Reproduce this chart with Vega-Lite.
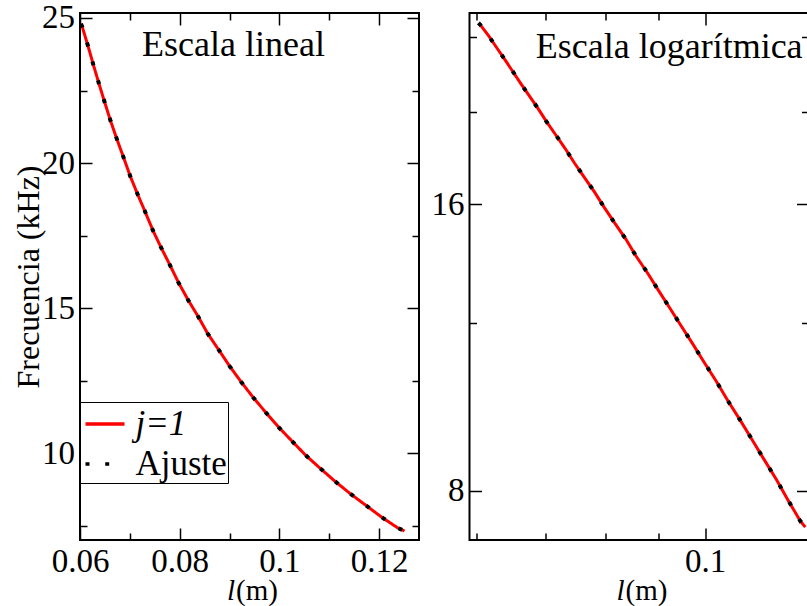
{
  "$schema": "https://vega.github.io/schema/vega-lite/v6.json",
  "padding": {"left": 11, "top": 0, "right": 0, "bottom": 0},
  "background": "white",
  "spacing": 50.5,
  "bounds": "flush",
  "datasets": {
    "curve": [
      {"l": 0.0602, "j1": 24.80, "ajuste": 24.80},
      {"l": 0.06046, "j1": 24.69, "ajuste": 24.69},
      {"l": 0.0616, "j1": 24.04, "ajuste": 24.04},
      {"l": 0.06267, "j1": 23.39, "ajuste": 23.39},
      {"l": 0.0638, "j1": 22.74, "ajuste": 22.74},
      {"l": 0.06494, "j1": 22.10, "ajuste": 22.10},
      {"l": 0.06614, "j1": 21.45, "ajuste": 21.45},
      {"l": 0.06741, "j1": 20.82, "ajuste": 20.82},
      {"l": 0.06875, "j1": 20.19, "ajuste": 20.19},
      {"l": 0.07008, "j1": 19.55, "ajuste": 19.55},
      {"l": 0.07155, "j1": 18.93, "ajuste": 18.93},
      {"l": 0.0731, "j1": 18.31, "ajuste": 18.31},
      {"l": 0.07463, "j1": 17.68, "ajuste": 17.68},
      {"l": 0.0763, "j1": 17.08, "ajuste": 17.08},
      {"l": 0.07804, "j1": 16.49, "ajuste": 16.49},
      {"l": 0.07977, "j1": 15.88, "ajuste": 15.88},
      {"l": 0.08171, "j1": 15.28, "ajuste": 15.28},
      {"l": 0.08372, "j1": 14.71, "ajuste": 14.71},
      {"l": 0.08565, "j1": 14.12, "ajuste": 14.12},
      {"l": 0.08786, "j1": 13.56, "ajuste": 13.56},
      {"l": 0.09, "j1": 13.01, "ajuste": 13.01},
      {"l": 0.09234, "j1": 12.46, "ajuste": 12.46},
      {"l": 0.09474, "j1": 11.93, "ajuste": 11.93},
      {"l": 0.09728, "j1": 11.41, "ajuste": 11.41},
      {"l": 0.09982, "j1": 10.91, "ajuste": 10.91},
      {"l": 0.1025, "j1": 10.43, "ajuste": 10.43},
      {"l": 0.1052, "j1": 9.95, "ajuste": 9.95},
      {"l": 0.1081, "j1": 9.50, "ajuste": 9.50},
      {"l": 0.1111, "j1": 9.05, "ajuste": 9.05},
      {"l": 0.1141, "j1": 8.63, "ajuste": 8.63},
      {"l": 0.1173, "j1": 8.22, "ajuste": 8.22},
      {"l": 0.1204, "j1": 7.82, "ajuste": 7.82},
      {"l": 0.1237, "j1": 7.44, "ajuste": 7.44},
      {"l": 0.1251, "j1": 7.33, "ajuste": 7.33}
    ],
    "notes": [
      {"panel": "lineal", "label": "Escala lineal", "l": 0.0908, "f": 23.68},
      {"panel": "log", "label": "Escala logarítmica", "l": 0.09225, "f": 22.8}
    ]
  },
  "resolve": {
    "scale": {"x": "independent", "y": "independent", "color": "independent", "strokeDash": "independent"},
    "axis": {"x": "independent", "y": "independent"},
    "legend": {"color": "independent", "strokeDash": "independent"}
  },
  "config": {
    "font": "Liberation Serif",
    "view": {"stroke": "black", "strokeWidth": 2},
    "axis": {
      "grid": false, "domain": false,
      "labelFont": "Liberation Serif", "labelFontSize": 33, "labelColor": "black",
      "labelOverlap": false, "labelFlush": false, "labelBound": false,
      "titleFont": "Liberation Serif", "titleFontWeight": "normal", "titleColor": "black",
      "tickColor": "black", "tickWidth": 1.5, "labelPadding": 17.5
    },
    "legend": {
      "labelFont": "Liberation Serif", "labelColor": "black"
    }
  },
  "hconcat": [
    {
      "width": 339,
      "height": 527,
      "layer": [
        {
          "data": {"name": "curve"},
          "mark": {"type": "line", "strokeWidth": 3},
          "encoding": {
            "x": {
              "field": "l", "type": "quantitative",
              "scale": {"domain": [0.06, 0.128], "nice": false, "zero": false},
              "axis": {
                "orient": "bottom", "format": "~g",
                "values": [0.06, 0.07, 0.08, 0.09, 0.1, 0.11, 0.12],
                "labelExpr": "indexof([0.06,0.08,0.1,0.12], datum.value) >= 0 ? datum.label : ''",
                "tickSize": {"condition": {"test": "indexof([0.06,0.08,0.1,0.12], datum.value) >= 0", "value": -12}, "value": -7},
                "title": "l", "titleFontStyle": "italic", "titleFontSize": 29,
                "titleX": 154.5, "titleY": 59.3, "titleAlign": "right", "titleBaseline": "alphabetic", "titleAngle": 0
              }
            },
            "y": {
              "field": "j1", "type": "quantitative",
              "scale": {"domain": [7.02, 25.17], "nice": false, "zero": false},
              "axis": {
                "orient": "left", "format": "~g",
                "values": [7.5, 10, 12.5, 15, 17.5, 20, 22.5, 25],
                "labelExpr": "indexof([10,15,20,25], datum.value) >= 0 ? datum.label : ''",
                "tickSize": {"condition": {"test": "indexof([10,15,20,25], datum.value) >= 0", "value": -12}, "value": -7},
                "title": "Frecuencia (kHz)", "titleFontSize": 32,
                "titleX": -42, "titleY": 263.5, "titleAngle": 270, "titleAlign": "center", "titleBaseline": "alphabetic"
              }
            },
            "color": {
              "datum": "j=1", "type": "nominal",
              "scale": {"domain": ["j=1", "Ajuste"], "range": ["#ff0000", "#000000"]},
              "legend": {
                "orient": "none", "legendX": 0, "legendY": 389, "title": null,
                "labelFontSize": 35, "symbolType": "stroke", "symbolSize": 1521, "symbolStrokeWidth": 3.5,
                "strokeColor": "black", "fillColor": "white", "padding": 0.5, "rowPadding": -1.5,
                "labelOffset": 9, "symbolOffset": 3, "cornerRadius": 0,
                "labelExpr": "datum.label + ' '",
                "labelFontStyle": {"expr": "datum.label == 'j=1' ? 'italic' : 'normal'"}
              }
            },
            "strokeDash": {
              "datum": "j=1", "type": "nominal",
              "scale": {"domain": ["j=1", "Ajuste"], "range": [[1, 0], [4, 15.7]]}
            }
          }
        },
        {
          "data": {"name": "curve"},
          "mark": {"type": "line", "strokeWidth": 4},
          "encoding": {
            "x": {
              "field": "l", "type": "quantitative",
              "axis": {
                "orient": "top", "labels": false, "title": null,
                "values": [0.06, 0.07, 0.08, 0.09, 0.1, 0.11, 0.12],
                "tickSize": {"condition": {"test": "indexof([0.06,0.08,0.1,0.12], datum.value) >= 0", "value": -12}, "value": -7}
              }
            },
            "y": {
              "field": "ajuste", "type": "quantitative",
              "axis": {
                "orient": "right", "labels": false, "title": null,
                "values": [7.5, 10, 12.5, 15, 17.5, 20, 22.5, 25],
                "tickSize": {"condition": {"test": "indexof([10,15,20,25], datum.value) >= 0", "value": -12}, "value": -7}
              }
            },
            "color": {"datum": "Ajuste", "type": "nominal"},
            "strokeDash": {"datum": "Ajuste", "type": "nominal"}
          }
        },
        {
          "data": {"name": "notes"},
          "transform": [{"filter": "datum.panel == 'lineal'"}],
          "mark": {"type": "text", "fontSize": 36, "font": "Liberation Serif", "align": "center", "baseline": "alphabetic", "color": "black"},
          "encoding": {
            "x": {
              "field": "l", "type": "quantitative",
              "axis": {
                "orient": "bottom", "ticks": false, "labels": false, "domain": false,
                "title": "(m)", "titleFontSize": 29, "titleFontStyle": "normal",
                "titleX": 155.5, "titleY": 59.3, "titleAlign": "left", "titleBaseline": "alphabetic", "titleAngle": 0
              }
            },
            "y": {"field": "f", "type": "quantitative", "axis": null},
            "text": {"field": "label"}
          }
        }
      ]
    },
    {
      "width": 339,
      "height": 527,
      "layer": [
        {
          "data": {"name": "curve"},
          "mark": {"type": "line", "strokeWidth": 3, "color": "#ff0000"},
          "encoding": {
            "x": {
              "field": "l", "type": "quantitative",
              "scale": {"type": "log", "domain": [0.05901, 0.126], "nice": false},
              "axis": {
                "orient": "bottom",
                "values": [0.06, 0.07, 0.08, 0.09, 0.1],
                "labelExpr": "datum.value == 0.1 ? '0.1' : ''",
                "tickSize": {"condition": {"test": "datum.value == 0.1", "value": -12}, "value": -7},
                "title": "l", "titleFontStyle": "italic", "titleFontSize": 29,
                "titleX": 154.5, "titleY": 59.3, "titleAlign": "right", "titleBaseline": "alphabetic", "titleAngle": 0
              }
            },
            "y": {
              "field": "j1", "type": "quantitative",
              "scale": {"type": "log", "domain": [7.106, 25.41], "nice": false},
              "axis": {
                "orient": "left",
                "values": [8, 12, 16, 20, 24],
                "labelExpr": "datum.value == 8 ? '8' : (datum.value == 16 ? '16' : '')",
                "tickSize": {"condition": {"test": "datum.value == 8 || datum.value == 16", "value": -12}, "value": -7},
                "title": null
              }
            }
          }
        },
        {
          "data": {"name": "curve"},
          "mark": {"type": "line", "strokeWidth": 4, "color": "#000000", "strokeDash": [4, 15.7]},
          "encoding": {
            "x": {
              "field": "l", "type": "quantitative",
              "axis": {
                "orient": "top", "labels": false, "title": null,
                "values": [0.06, 0.07, 0.08, 0.09, 0.1],
                "tickSize": {"condition": {"test": "datum.value == 0.1", "value": -12}, "value": -7}
              }
            },
            "y": {
              "field": "ajuste", "type": "quantitative",
              "axis": {
                "orient": "right", "labels": false, "title": null,
                "values": [8, 12, 16, 20, 24],
                "tickSize": {"condition": {"test": "datum.value == 8 || datum.value == 16", "value": -12}, "value": -7}
              }
            }
          }
        },
        {
          "data": {"name": "notes"},
          "transform": [{"filter": "datum.panel == 'log'"}],
          "mark": {"type": "text", "fontSize": 36, "font": "Liberation Serif", "align": "center", "baseline": "alphabetic", "color": "black"},
          "encoding": {
            "x": {
              "field": "l", "type": "quantitative",
              "axis": {
                "orient": "bottom", "ticks": false, "labels": false, "domain": false,
                "title": "(m)", "titleFontSize": 29, "titleFontStyle": "normal",
                "titleX": 155.5, "titleY": 59.3, "titleAlign": "left", "titleBaseline": "alphabetic", "titleAngle": 0
              }
            },
            "y": {"field": "f", "type": "quantitative", "axis": null},
            "text": {"field": "label"}
          }
        }
      ]
    }
  ]
}
